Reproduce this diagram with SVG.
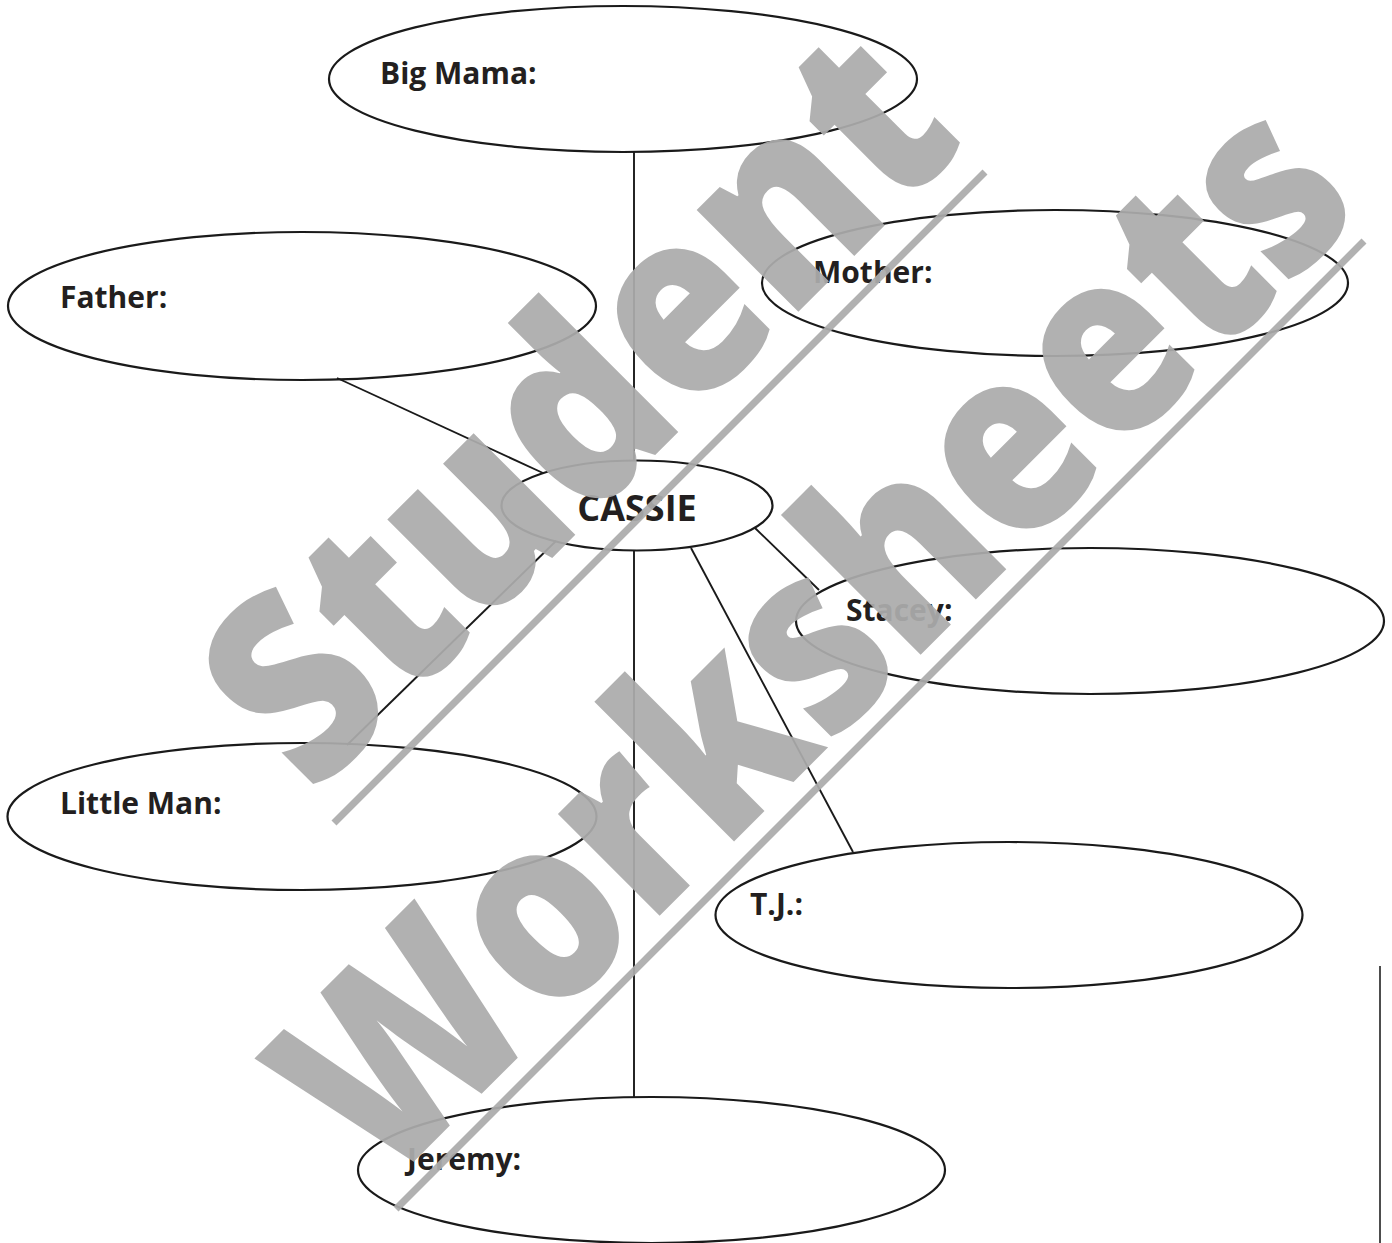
<svg xmlns="http://www.w3.org/2000/svg" width="1392" height="1243" viewBox="0 0 1392 1243">
<style>
.node ellipse{fill:none;stroke:#1a1a1a;stroke-width:2.2}
.lbl{font-family:"Open Sans","Noto Sans","Liberation Sans",sans-serif;font-weight:700;font-size:30px;fill:#231f20}
.conn line{stroke:#1a1a1a;stroke-width:1.9}
.wm{font-family:"Open Sans","Noto Sans","Liberation Sans",sans-serif;font-weight:800;font-size:260px;fill:#acacac}
.wml{stroke:#acacac;stroke-width:7}
</style>
<rect width="1392" height="1243" fill="#fff"/>
<g id="connectors" class="conn">
<line x1="634" y1="152" x2="634" y2="461"/>
<line x1="634" y1="550" x2="634" y2="1098"/>
<line x1="337" y1="378" x2="543" y2="473"/>
<line x1="755" y1="528" x2="819" y2="590"/>
<line x1="691" y1="548" x2="853" y2="852"/>
<line x1="556" y1="541" x2="347" y2="745"/>
</g>
<g id="bigmama" class="node"><ellipse cx="623" cy="79" rx="294" ry="73"/><text class="lbl" x="380" y="84">Big Mama:</text></g>
<g id="father" class="node"><ellipse cx="302" cy="306" rx="294" ry="74"/><text class="lbl" x="60" y="308">Father:</text></g>
<g id="mother" class="node"><ellipse cx="1055" cy="283" rx="293" ry="73"/><text class="lbl" x="813" y="283">Mother:</text></g>
<g id="cassie" class="node"><ellipse cx="637" cy="505.5" rx="135.5" ry="45"/><text class="lbl" x="637" y="521" text-anchor="middle" style="font-size:36px">CASSIE</text></g>
<g id="stacey" class="node"><ellipse cx="1090" cy="621" rx="294" ry="73"/><text class="lbl" x="846" y="621">Stacey:</text></g>
<g id="tj" class="node"><ellipse cx="1009" cy="915" rx="293.5" ry="73"/><text class="lbl" x="750" y="915">T.J.:</text></g>
<g id="littleman" class="node"><ellipse cx="302" cy="816.5" rx="294.5" ry="73.5"/><text class="lbl" x="60" y="814">Little Man:</text></g>
<g id="jeremy" class="node"><ellipse cx="651.5" cy="1170" rx="293.5" ry="73"/><text class="lbl" x="407" y="1170">Jeremy:</text></g>
<line x1="1380" y1="966" x2="1380" y2="1243" stroke="#4d4d4d" stroke-width="2"/>
<g id="watermark" opacity="0.93">
<line class="wml" x1="334" y1="823" x2="985" y2="172"/>
<line class="wml" x1="396" y1="1209" x2="1364" y2="241"/>
<g transform="rotate(-45)">
<text class="wm" x="-343" y="785" textLength="928" lengthAdjust="spacingAndGlyphs">Student</text>
<text class="wm" x="-572" y="1114" textLength="1392" lengthAdjust="spacingAndGlyphs">Worksheets</text>
</g>
</g>
</svg>
